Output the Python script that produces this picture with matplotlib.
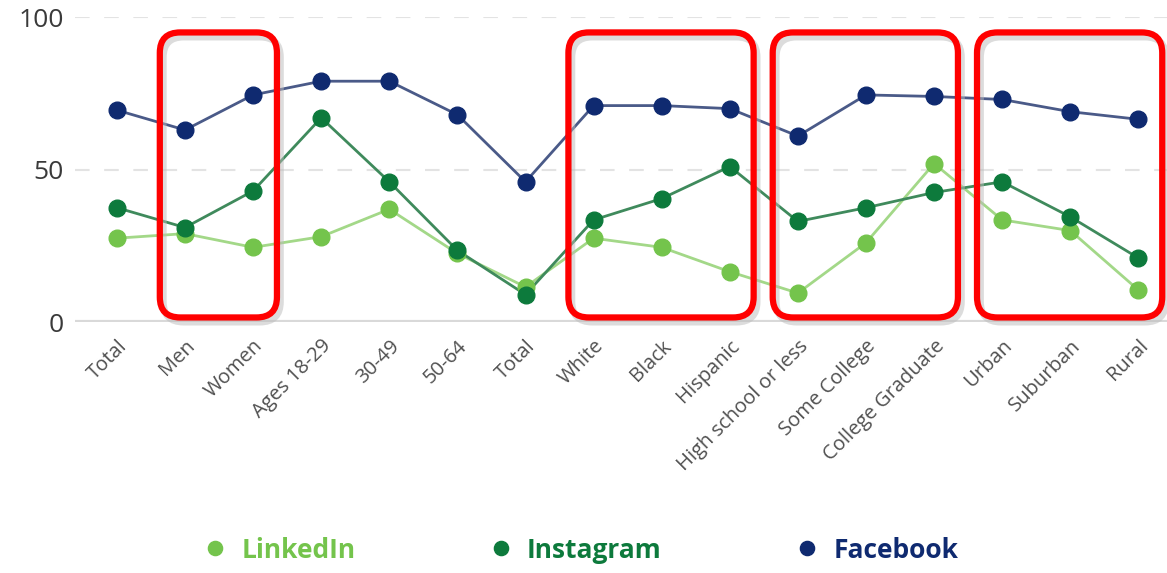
import matplotlib

matplotlib.use("Agg")
import matplotlib.pyplot as plt
from matplotlib.patches import FancyBboxPatch

# ------------------------------------------------------------------ #
# Data (percent of adults using each platform)
# ------------------------------------------------------------------ #
categories = [
    "Total", "Men", "Women", "Ages 18-29", "30-49", "50-64", "Total",
    "White", "Black", "Hispanic", "High school or less", "Some College",
    "College Graduate", "Urban", "Suburban", "Rural",
]
linkedin = [27.5, 29, 24.5, 28, 37, 22.5, 11.5, 27.5, 24.5, 16.5, 9.5, 26, 52, 33.5, 30, 10.5]
instagram = [37.5, 31, 43, 67, 46, 23.5, 9, 33.5, 40.5, 51, 33, 37.5, 42.5, 46, 34.5, 21]
facebook = [69.5, 63, 74.5, 79, 79, 68, 46, 71, 71, 70, 61, 74.5, 74, 73, 69, 66.5]

series_names = ["LinkedIn", "Instagram", "Facebook"]
series_colors = ["#74c44c", "#0d7a3c", "#0f2a70"]
line_colors = ["#a3d888", "#3f8a5c", "#4a5a88"]

# highlighted groups (first index, last index)
highlight_groups = [(1, 2), (7, 9), (10, 12), (13, 15)]

# ------------------------------------------------------------------ #
# Figure
# ------------------------------------------------------------------ #
fig = plt.figure(figsize=(11.67, 5.73), dpi=100)
ax = fig.add_axes([0.064, 0.438, 0.936, 0.532])

x = list(range(len(categories)))
for values, name, color, lcolor in zip(
    [linkedin, instagram, facebook], series_names, series_colors, line_colors
):
    ax.plot(x, values, color=lcolor, linewidth=2.0, zorder=3)
    ax.plot(x, values, linestyle="none", marker="o", markersize=12,
            markerfacecolor=color, markeredgecolor=color, zorder=4, label=name)

ax.set_xlim(-0.62, 15.42)
ax.set_ylim(0, 100)

# grid: dashed at 50/100, solid baseline at 0
for level in (50, 100):
    ax.axhline(level, color="#e3e3e3", linewidth=1.5, dashes=(7, 7), zorder=1)
ax.axhline(0, color="#d9d9d9", linewidth=3, zorder=1)

for side in ("top", "right", "left", "bottom"):
    ax.spines[side].set_visible(False)

ax.set_yticks([0, 50, 100])
ax.set_yticklabels(["0", "50", "100"], fontsize=19, color="#3a3a3a", family="Open Sans")
ax.tick_params(axis="y", length=0, pad=8)

ax.set_xticks(x)
ax.set_xticklabels(categories, rotation=45, ha="right", rotation_mode="anchor",
                   fontsize=14.5, color="#505050", family="Open Sans")
ax.tick_params(axis="x", length=0, pad=10)

# red rounded boxes around the highlighted groups
fig.canvas.draw()
px0 = ax.transData.transform((0, 0))
px1 = ax.transData.transform((1, 1))
aspect = (px1[0] - px0[0]) / (px1[1] - px0[1])
for first, last in highlight_groups:
    left = first - 0.37
    width = (last - first) + 0.72
    bottom, height = 1.5, 93.5
    shadow = FancyBboxPatch((left + 0.05, bottom - 1.5), width, height,
                            boxstyle="round,pad=0,rounding_size=0.3",
                            mutation_aspect=aspect, facecolor="none",
                            edgecolor="#bbbbbb", linewidth=5, alpha=0.5,
                            clip_on=False, zorder=5)
    box = FancyBboxPatch((left, bottom), width, height,
                         boxstyle="round,pad=0,rounding_size=0.3",
                         mutation_aspect=aspect, facecolor="none",
                         edgecolor="#ff0000", linewidth=4.5,
                         clip_on=False, zorder=6)
    ax.add_patch(shadow)
    ax.add_patch(box)

legend = fig.legend(loc="lower center", bbox_to_anchor=(0.497, -0.025), ncol=3,
                    frameon=False, handlelength=1.0, handletextpad=0.5, columnspacing=5.0,
                    markerscale=0.85, prop={"family": "Open Sans", "size": 19, "weight": "bold"})
for text, color in zip(legend.get_texts(), series_colors):
    text.set_color(color)

fig.savefig("out.png", dpi=100)
plt.close(fig)
